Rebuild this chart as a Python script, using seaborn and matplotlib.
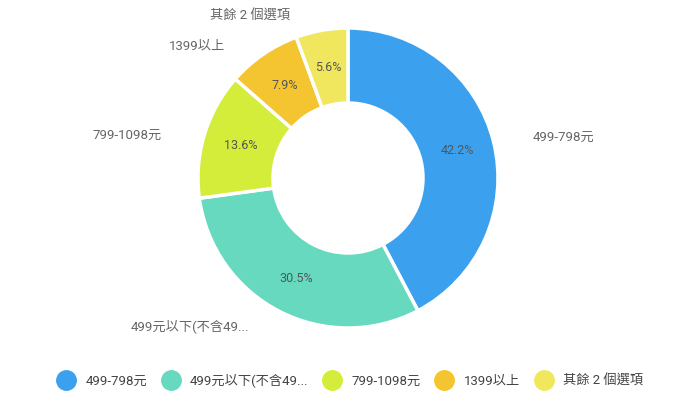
import matplotlib
matplotlib.use("Agg")
import matplotlib.pyplot as plt
import seaborn as sns
from matplotlib.lines import Line2D

sns.set_theme(style="white")
plt.rcParams['font.family'] = ['Roboto', 'Noto Sans CJK TC', 'DejaVu Sans']

categories = ["499-798元", "499元以下(不含49...", "799-1098元", "1399以上", "其餘 2 個選項"]
values = [42.2, 30.5, 13.6, 7.9, 5.6]
colors = ["#3BA1EE", "#66D9BF", "#D4EC3A", "#F4C531", "#F1E75F"]

# layout (pixel coords, y measured from top)
W, H = 700, 393
cx, cy, R = 348, 178, 150
label_pos = [(533, 137, "left"), (249, 327, "right"), (162, 135, "right"),
             (225, 46, "right"), (290, 16, "right")]

fig = plt.figure(figsize=(W / 100, H / 100), dpi=100)
ax = fig.add_axes([0, 0, 1, 1])
wedges, texts, autotexts = ax.pie(
    values, colors=colors, startangle=90, counterclock=False,
    center=(cx, H - cy), radius=R,
    autopct=lambda p: f"{p:.1f}%", pctdistance=0.75,
    wedgeprops=dict(width=R * 0.5, edgecolor="white", linewidth=2.5),
    textprops=dict(fontsize=9, color="#555555"),
)
for t, v in zip(autotexts, values):
    t.set_text(f"{v:.1f}%")

for (x, y, ha), lab in zip(label_pos, categories):
    ax.text(x, H - y, lab, ha=ha, va="center", fontsize=9.5, color="#666666")

ax.set_xlim(0, W)
ax.set_ylim(0, H)
ax.set_aspect("equal")
ax.axis("off")

handles = [Line2D([0], [0], marker="o", linestyle="none", markersize=14,
                  markerfacecolor=c, markeredgecolor=c) for c in colors]
fig.legend(handles, categories, loc="center", bbox_to_anchor=(0.497, (H - 381) / H),
           ncol=5, frameon=False, fontsize=9.5, handletextpad=0.45, columnspacing=0.8,
           labelcolor="#444444")

fig.savefig("out.png", dpi=100)
